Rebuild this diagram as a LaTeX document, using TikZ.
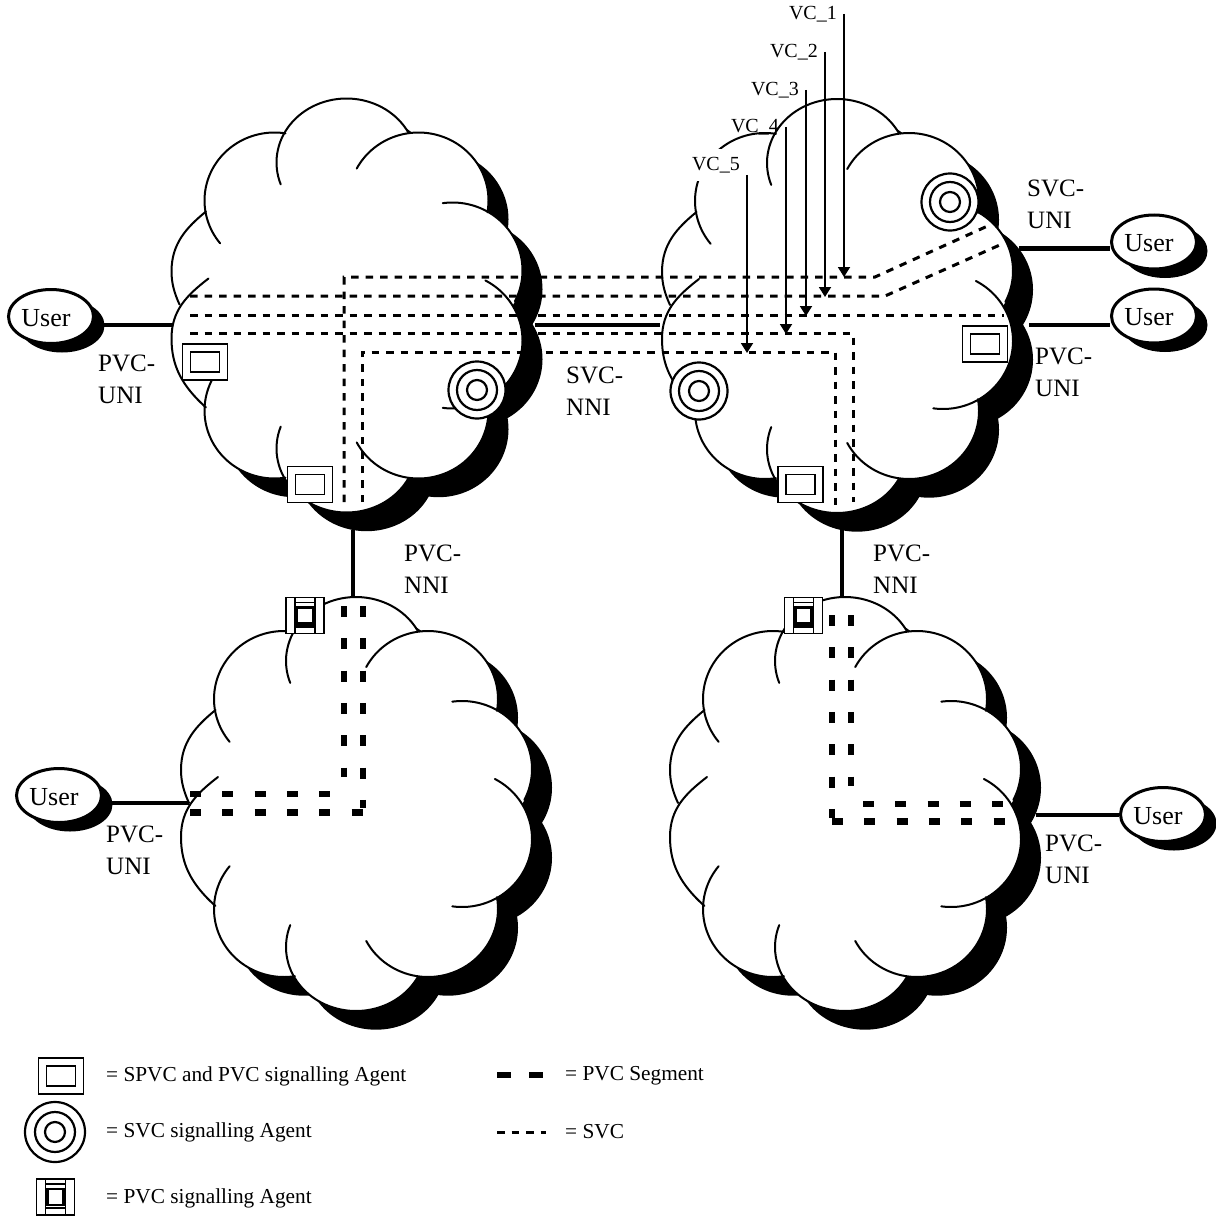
\documentclass[tikz,border=0pt]{standalone}
\usepackage{fontspec}
\setmainfont{Liberation Serif}
\usetikzlibrary{arrows.meta, shapes.geometric, shadows, calc}

% body of one cloud, around its centre
\newcommand{\cloudbody}{
  \foreach \cx/\cy/\ry in {0/-143/64, 72/-105/68, 106/-35/68, 106/35/68, 72/105/68, 0/143/64, -72/105/68, -72/-105/68} {
    \fill (\cx,\cy) ellipse [x radius=70, y radius=\ry];
  }
  \fill (-140.5,102) .. controls (-165,80) and (-175,60) .. (-175,33) .. controls (-175,15) and (-172,6) .. (-167,-1)
    .. controls (-172,-12) and (-175,-22) .. (-175,-34) .. controls (-175,-62) and (-160,-78) .. (-140.5,-94)
    -- (-100,-94) -- (-100,102) -- cycle;
  \fill (-125,-125) rectangle (125,125);
}

\tikzset{
  netcloud/.pic={
    \begin{scope}[black, shift={(20,18.7)}] \cloudbody \end{scope}
    \begin{scope}[white] \cloudbody \end{scope}
    \foreach \cx/\cy/\ry/\a/\b in {0/-143/64/160/332, 72/-105/68/208/370, 106/-35/68/262/387,
        106/35/68/-62/98, 72/105/68/-10/152, 0/143/64/28/200, -72/105/68/81/219, -72/-105/68/141/279} {
      \draw[lobe] plot[domain=\a:\b, samples=50, variable=\t] ({\cx+70*cos(\t)},{\cy+\ry*sin(\t)});
    }
    \draw[lobe] (-140.5,102) .. controls (-165,80) and (-175,60) .. (-175,33) .. controls (-175,5) and (-160,-10) .. (-138,-27);
    \draw[lobe] (-167,-1) .. controls (-172,-12) and (-175,-22) .. (-175,-34) .. controls (-175,-62) and (-160,-78) .. (-140.5,-94);
  },
  lobe/.style={line width=2pt, line cap=round},
  usernode/.style={ellipse, draw, fill=white, line width=3pt, minimum width=85pt, minimum height=54pt,
    inner sep=0pt, font=\fontsize{26}{30}\selectfont, text height=20pt,
    execute at end node={\hspace{10pt}},
    drop shadow={shadow xshift=11pt, shadow yshift=-9pt, fill=black, opacity=1}},
  iflabel/.style={anchor=west, align=left, inner sep=0pt, font=\fontsize{25}{32}\selectfont},
  legendtext/.style={anchor=west, inner sep=0pt, font=\fontsize{21.3}{24}\selectfont},
  vclabel/.style={anchor=east, inner sep=1pt, font=\fontsize{20}{24}\selectfont},
  link/.style={line width=4.6pt},
  svcline/.style={line width=3pt, dash pattern=on 7.5pt off 7pt},
  pvcline/.style={line width=6.5pt, dash pattern=on 11pt off 21.3pt},
  vcarrow/.style={line width=1.8pt, -{Triangle[length=10pt,width=12pt]}},
  spvcagent/.style={rectangle, draw, fill=white, double, line width=1.6pt, double distance=6.6pt,
    minimum width=37pt, minimum height=28pt, inner sep=0pt},
  svcagent/.style={circle, draw, fill=white, line width=2.2pt, minimum size=57pt, inner sep=0pt,
    path picture={
      \draw[line width=2.2pt] (path picture bounding box.center) circle (20pt);
      \draw[line width=2.2pt] (path picture bounding box.center) circle (10pt);
    }},
  pvcagent/.style={rectangle, draw, fill=white, line width=1.6pt, minimum width=38pt, minimum height=36pt, inner sep=0pt,
    path picture={
      \begin{scope}[shift={(path picture bounding box.center)}]
        \draw[line width=1.6pt] (-10,-19) -- (-10,19) (10,-19) -- (10,19);
        \draw[line width=1.6pt] (-10,-13) -- (10,-13);
        \draw[line width=2.4pt] (-8,-8) rectangle (8,8);
        \draw[line width=2.6pt] (-10,11) -- (10,11);
      \end{scope}
    }},
}

\begin{document}
\begin{tikzpicture}[x=1pt, y=-1pt]
  \useasboundingbox (0,0) rectangle (1215,1217);

  % Clouds
  \pic at (346.5,305.5) {netcloud};
  \pic at (837,306) {netcloud};
  \pic at (356,804) {netcloud};
  \pic at (845,804) {netcloud};

  % Users
  \node[usernode] (userA) at (51,316.5) {User};
  \node[usernode] (userB) at (1154,242) {User};
  \node[usernode] (userC) at (1154,316) {User};
  \node[usernode] (userD) at (59,795.5) {User};
  \node[usernode] (userE) at (1163,814.5) {User};

  % Links
  \coordinate (portA) at (172,325);
  \coordinate (portB) at (535,325);
  \coordinate (portC) at (660,325);
  \coordinate (portD) at (1019,248.5);
  \coordinate (portE) at (1029,325);
  \coordinate (portF) at (353,530);
  \coordinate (portG) at (353,597);
  \coordinate (portH) at (842,530);
  \coordinate (portI) at (842,597);
  \coordinate (portJ) at (189,803);
  \coordinate (portK) at (1036,815);
  \draw[link] (userA.east |- portA) -- (portA);
  \draw[link] (portB) -- (portC);
  \draw[link] (portD) -- (userB.west |- portD);
  \draw[link] (portE) -- (userC.west |- portE);
  \draw[link] (portF) -- (portG);
  \draw[link] (portH) -- (portI);
  \draw[link] (userD.east |- portJ) -- (portJ);
  \draw[link] (portK) -- (userE.west |- portK);

  % SVC
  \draw[svcline] (344,502) -- (344,277) -- (875,277) -- (992,224);
  \draw[svcline] (190,296) -- (885,296) -- (1002,244);
  \draw[svcline] (190,315.5) -- (1004,315.5);
  \draw[svcline] (190,333.5) -- (853,333.5) -- (853,502);
  \draw[svcline] (362,502) -- (362,352) -- (835,352) -- (835,514);

  % PVC segments
  \draw[pvcline] (190,794) -- (331,794);
  \draw[pvcline] (344,606) -- (344,777);
  \draw[pvcline] (190,812.7) -- (363,812.7);
  \draw[pvcline] (363,606) -- (363,808);
  \draw[pvcline] (832,615) -- (832,818);
  \draw[pvcline] (832,821.7) -- (1005,821.7);
  \draw[pvcline] (851,615) -- (851,786);
  \draw[pvcline] (863,804) -- (1005,804);

  % Agents
  \node[spvcagent] (spvcA) at (205,362) {};
  \node[spvcagent] (spvcB) at (310,484.5) {};
  \node[spvcagent] (spvcC) at (985,344) {};
  \node[spvcagent] (spvcD) at (800.5,484.5) {};
  \node[svcagent] (svcA) at (477,390) {};
  \node[svcagent] (svcB) at (950,202) {};
  \node[svcagent] (svcC) at (699,391) {};
  \node[pvcagent] (pvcA) at (305,615.5) {};
  \node[pvcagent] (pvcB) at (803.5,615.5) {};

  % VC arrows
  \foreach \i/\x/\ytop/\ytip in {1/844/14/277, 2/825/52/297, 3/806/90/316, 4/786/127/334} {
    \node[vclabel] (vc\i) at (\x-6,\ytop) {VC\_\i};
    \draw[vcarrow] ([xshift=6pt]vc\i.east) -- (\x,\ytip);
  }
  \node[vclabel, fill=white, minimum height=32pt] (vc5) at (741,165) {VC\_5};
  \coordinate (vctop5) at (747,175);
  \coordinate (vctip5) at (747,353);
  \draw[vcarrow] (vctop5) -- (vctip5);

  % Interface labels
  \node[iflabel] (lblA) at (98,379) {PVC-\\UNI};
  \node[iflabel] (lblB) at (566,391) {SVC-\\NNI};
  \node[iflabel] (lblC) at (1027,204) {SVC-\\UNI};
  \node[iflabel] (lblD) at (1035,372) {PVC-\\UNI};
  \node[iflabel] (lblE) at (404,569) {PVC-\\NNI};
  \node[iflabel] (lblF) at (873,569) {PVC-\\NNI};
  \node[iflabel] (lblG) at (106,850) {PVC-\\UNI};
  \node[iflabel] (lblH) at (1045,859) {PVC-\\UNI};

  % Legend
  \node[spvcagent] (keyA) at (61,1076) {};
  \node[svcagent, minimum size=60pt] (keyB) at (55,1132) {};
  \node[pvcagent] (keyC) at (55.5,1197) {};
  \node[legendtext] (keyAtext) at (106,1076) {= SPVC and PVC signalling Agent};
  \node[legendtext] (keyBtext) at (106,1132) {= SVC signalling Agent};
  \node[legendtext] (keyCtext) at (106,1198) {= PVC signalling Agent};
  \node[legendtext] (keyDtext) at (565,1076) {= PVC Segment};
  \node[legendtext] (keyEtext) at (565,1132) {= SVC};
  \draw[line width=6pt, dash pattern=on 14pt off 18pt] (497,1075) -- (543,1075);
  \draw[svcline] (497,1132) -- (546,1132);
\end{tikzpicture}
\end{document}
